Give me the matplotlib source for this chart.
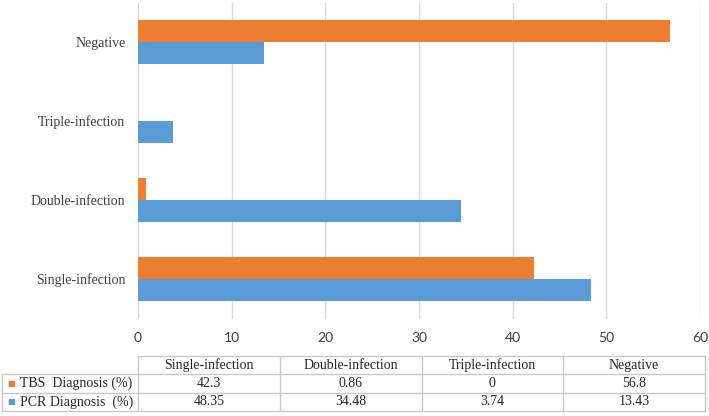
import matplotlib.pyplot as plt
import numpy as np

categories = ['Single-infection', 'Double-infection', 'Triple-infection', 'Negative']
tbs = [42.3, 0.86, 0, 56.8]
pcr = [48.35, 34.48, 3.74, 13.43]
tbs_text = ['42.3', '0.86', '0', '56.8']
pcr_text = ['48.35', '34.48', '3.74', '13.43']
series = ['TBS  Diagnosis (%)', 'PCR Diagnosis  (%)']
colors = ['#ED7D31', '#5B9BD5']
xticks = [0, 10, 20, 30, 40, 50, 60]

fig = plt.figure(figsize=(7.09, 4.16), dpi=100)
ax = fig.add_axes([138 / 709, 1 - 318.5 / 416, 562 / 709, 316 / 416])

y = np.arange(len(categories))
h = 0.28
ax.barh(y + h / 2, tbs, height=h, color=colors[0], edgecolor='none', zorder=3)
ax.barh(y - h / 2, pcr, height=h, color=colors[1], edgecolor='none', zorder=3)

ax.set_xlim(0, 60)
ax.set_ylim(-0.5, 3.5)
ax.set_xticks(xticks)
ax.set_xticklabels([str(t) for t in xticks], fontfamily='Lato', fontsize=10, color='#404040')
ax.set_yticks(y)
ax.set_yticklabels(categories, fontfamily='Liberation Serif', fontsize=10, color='#404040')
ax.tick_params(axis='x', length=0, pad=10)
ax.tick_params(axis='y', length=0, pad=9)
ax.grid(axis='x', color='#D9D9D9', linewidth=1, zorder=0)
for s in ax.spines.values():
    s.set_visible(False)

# data table under the chart
tab = fig.add_axes([2 / 709, 1 - 411 / 416, 703 / 709, 55 / 416])
lw = 136 / 141.75
tab.set_xlim(-lw, 4)
tab.set_ylim(3, 0)
tab.axis('off')
line_kw = dict(color='#C8C8C8', linewidth=1, clip_on=False)
tab.plot([0, 4], [0, 0], **line_kw)
for r in [1, 2, 3]:
    tab.plot([-lw, 4], [r, r], **line_kw)
tab.plot([-lw, -lw], [1, 3], **line_kw)
for c in range(5):
    tab.plot([c, c], [0, 3], **line_kw)

txt_kw = dict(fontfamily='Liberation Serif', fontsize=10, color='#262626', va='center')
for i, cat in enumerate(categories):
    tab.text(i + 0.5, 0.5, cat, ha='center', **txt_kw)
for r, vals in enumerate([tbs_text, pcr_text]):
    for i, v in enumerate(vals):
        tab.text(i + 0.5, r + 1.5, v, ha='center', **txt_kw)
    tab.text(-lw + 5 / 141.75, r + 1.5, '\u25A0', color=colors[r], fontsize=6,
             ha='left', va='center', fontfamily='DejaVu Sans')
    tab.text(-lw + 18 / 141.75, r + 1.5, series[r], ha='left',
             **{k: v for k, v in txt_kw.items()})

fig.savefig('out.png', dpi=100)
